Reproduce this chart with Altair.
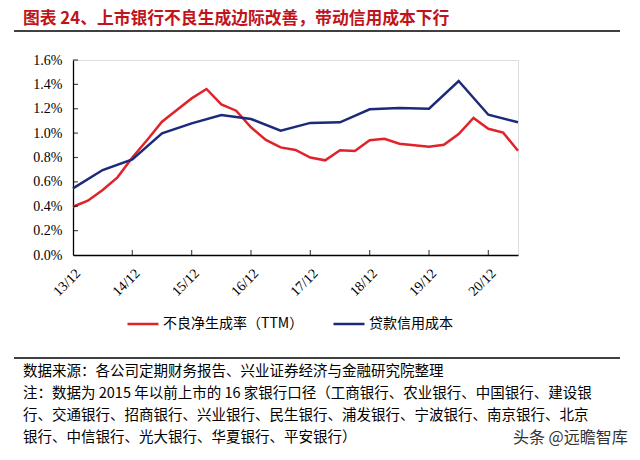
import altair as alt
import pandas as pd

# ---- data ----
quarters = ["13/12", "14/03", "14/06", "14/09", "14/12", "15/03", "15/06", "15/09",
            "15/12", "16/03", "16/06", "16/09", "16/12", "17/03", "17/06", "17/09",
            "17/12", "18/03", "18/06", "18/09", "18/12", "19/03", "19/06", "19/09",
            "19/12", "20/03", "20/06", "20/09", "20/12", "21/03", "21/06"]
npl_rate = [0.396, 0.446, 0.533, 0.637, 0.800, 0.944, 1.094, 1.190, 1.285, 1.362,
            1.236, 1.184, 1.048, 0.944, 0.883, 0.862, 0.800, 0.777, 0.859, 0.853,
            0.941, 0.954, 0.913, 0.900, 0.889, 0.905, 0.993, 1.124, 1.036, 1.004, 0.856]
credit_periods = ["13/12", "14/06", "14/12", "15/06", "15/12", "16/06", "16/12", "17/06",
                  "17/12", "18/06", "18/12", "19/06", "19/12", "20/06", "20/12", "21/06"]
credit_cost = [0.547, 0.697, 0.785, 0.998, 1.080, 1.149, 1.116, 1.020,
               1.084, 1.089, 1.195, 1.206, 1.200, 1.428, 1.151, 1.089]
tick_labels = ["13/12", "14/12", "15/12", "16/12", "17/12", "18/12", "19/12", "20/12"]
y_ticks = [0.0, 0.2, 0.4, 0.6, 0.8, 1.0, 1.2, 1.4, 1.6]

s1 = "不良净生成率（TTM）"
s2 = "贷款信用成本"

title_text = "图表 24、上市银行不良生成边际改善，带动信用成本下行"
notes = [
    "数据来源：各公司定期财务报告、兴业证券经济与金融研究院整理",
    "注：数据为 2015 年以前上市的 16 家银行口径（工商银行、农业银行、中国银行、建设银",
    "行、交通银行、招商银行、兴业银行、民生银行、浦发银行、宁波银行、南京银行、北京",
    "银行、中信银行、光大银行、华夏银行、平安银行）",
]
watermark = "头条 @远瞻智库"

rows = []
for q, v in zip(quarters, npl_rate):
    rows.append({"idx": quarters.index(q), "series": s1, "value": v})
for q, v in zip(credit_periods, credit_cost):
    rows.append({"idx": quarters.index(q), "series": s2, "value": v})
df = pd.DataFrame(rows)

tick_idx = [quarters.index(t) for t in tick_labels]
label_js = "[" + ",".join("'" + t + "'" for t in tick_labels) + "]"

FONT = "Liberation Serif, Noto Sans CJK SC"
CJK = "Noto Sans CJK SC, Liberation Serif"

x_scale = alt.Scale(domain=[0, 30], nice=False, zero=False)
y_scale = alt.Scale(domain=[0, 1.6], nice=False)

x_axis = alt.Axis(values=tick_idx, labelExpr=label_js + "[round(datum.value/4)]",
                  labelAngle=-45, labelPadding=11, ticks=False, grid=False,
                  labelOverlap=False, title=None,
                  labelFont=FONT, labelFontSize=14, labelColor="black",
                  domainColor="black", domainWidth=1.3)
y_axis = alt.Axis(values=y_ticks, tickCount=9, labelExpr="format(datum.value, '.1f') + '%'",
                  ticks=False, grid=False, labelOverlap=False, title=None,
                  labelPadding=11, labelFont=FONT, labelFontSize=14,
                  labelColor="black", domainColor="black", domainWidth=1.3)

lines = alt.Chart(df).mark_line(strokeWidth=2.5).encode(
    x=alt.X("idx:Q", scale=x_scale, axis=x_axis),
    y=alt.Y("value:Q", scale=y_scale, axis=y_axis),
    color=alt.Color("series:N",
                    scale=alt.Scale(domain=[s1, s2], range=["#E0232B", "#1B2A7A"]),
                    legend=alt.Legend(title=None, orient="none", legendX=53, legendY=247,
                                      direction="horizontal", symbolType="stroke",
                                      symbolSize=961, symbolStrokeWidth=2.5,
                                      labelFont=CJK, labelFontSize=14, labelColor="black",
                                      labelLimit=300, columnPadding=24, labelOffset=3)),
    order=alt.Order("idx:Q"),
)

xt = alt.Chart(pd.DataFrame({"idx": tick_idx[1:]})).mark_tick(
    orient="vertical", size=5, thickness=1.2, color="black", yOffset=-2.5
).encode(x=alt.X("idx:Q", scale=x_scale, axis=x_axis), y=alt.datum(0))

yt = alt.Chart(pd.DataFrame({"value": y_ticks[1:]})).mark_tick(
    orient="horizontal", size=5, thickness=1.2, color="black", xOffset=2.5
).encode(y=alt.Y("value:Q", scale=y_scale, axis=y_axis), x=alt.datum(0))

one = pd.DataFrame({"a": [0]})

title = alt.Chart(pd.DataFrame({"t": [title_text]})).mark_text(
    align="left", baseline="middle", font=CJK, fontSize=16.8, fontWeight="bold",
    color="#C0141C"
).encode(text="t:N", x=alt.value(-50), y=alt.value(-41))

rule1 = alt.Chart(one).mark_rule(color="black", strokeWidth=1.5).encode(
    x=alt.value(-59), x2=alt.value(547), y=alt.value(-29))
rule2 = alt.Chart(one).mark_rule(color="black", strokeWidth=1.5).encode(
    x=alt.value(-59), x2=alt.value(547), y=alt.value(298))

note_layers = []
for i, n in enumerate(notes):
    note_layers.append(
        alt.Chart(pd.DataFrame({"t": [n]})).mark_text(
            align="left", baseline="middle", font=CJK, fontSize=14.5, color="black"
        ).encode(text="t:N", x=alt.value(-50), y=alt.value(311.5 + 22 * i))
    )

wm = alt.Chart(pd.DataFrame({"t": [watermark]})).mark_text(
    align="left", baseline="middle", font="Noto Sans CJK SC", fontSize=16, color="#333333"
).encode(text="t:N", x=alt.value(440), y=alt.value(378))

chart = alt.layer(lines, xt, yt, title, rule1, rule2, *note_layers, wm).properties(
    width=445, height=195,
    autosize=alt.AutoSizeParams(type="none"),
    padding={"left": 65, "top": 52, "right": 114, "bottom": 197},
).configure_view(stroke=None).configure(background="white")

chart.save("out.html", embed_options={"renderer": "svg", "actions": False})
